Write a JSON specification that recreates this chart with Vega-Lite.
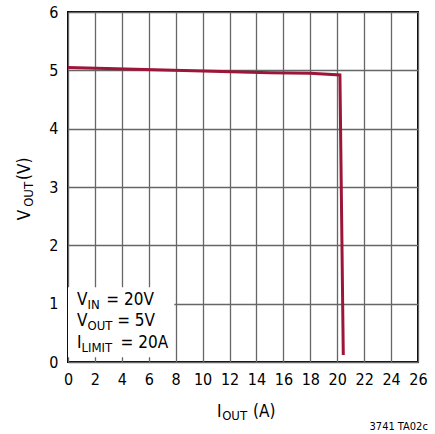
{
  "$schema": "https://vega.github.io/schema/vega-lite/v6.json",
  "width": 350,
  "height": 350,
  "autosize": {"type": "none"},
  "padding": {"left": 68, "top": 12, "right": 17, "bottom": 72},
  "background": "white",
  "config": {
    "view": {"stroke": "black", "strokeWidth": 2},
    "font": "'DejaVu Sans Condensed', Roboto, sans-serif"
  },
  "datasets": {
    "curve": [
      {"x": 0, "y": 5.05},
      {"x": 5, "y": 5.02},
      {"x": 10, "y": 4.99},
      {"x": 15, "y": 4.96},
      {"x": 18, "y": 4.95},
      {"x": 20.2, "y": 4.92},
      {"x": 20.45, "y": 0.12}
    ],
    "box": [{"x": 0, "x2": 7.9, "y": 0.08, "y2": 1.28}],
    "big": [
      {"x": 0.67, "y": 0.97, "t": "V"},
      {"x": 2.85, "y": 0.97, "t": "= 20V"},
      {"x": 0.67, "y": 0.61, "t": "V"},
      {"x": 3.65, "y": 0.61, "t": "= 5V"},
      {"x": 0.67, "y": 0.24, "t": "I"},
      {"x": 3.9, "y": 0.24, "t": "= 20A"},
      {"x": 11.07, "y": -0.943, "t": "I"},
      {"x": 13.74, "y": -0.943, "t": "(A)"}
    ],
    "small": [
      {"x": 1.45, "y": 0.91, "t": "IN"},
      {"x": 1.45, "y": 0.55, "t": "OUT"},
      {"x": 1.0, "y": 0.18, "t": "LIMIT"},
      {"x": 11.45, "y": -1.0, "t": "OUT"}
    ],
    "ybig": [
      {"x": -2.82, "y": 2.43, "t": "V"},
      {"x": -2.82, "y": 3.12, "t": "(V)"}
    ],
    "ysmall": [
      {"x": -2.6, "y": 2.66, "t": "OUT"}
    ],
    "note": [{"x": 22.4, "y": -1.17, "t": "3741 TA02c"}]
  },
  "encoding": {
    "x": {"field": "x", "type": "quantitative", "scale": {"domain": [0, 26], "nice": false, "zero": false},
      "axis": {"values": [0,2,4,6,8,10,12,14,16,18,20,22,24,26], "format": "d", "labelOverlap": false, "title": null, "grid": true, "gridColor": "#666", "gridWidth": 1.3, "gridOpacity": 1, "domain": false, "ticks": false, "labelFontSize": 16, "labelColor": "black", "labelPadding": 9, "labelFlush": false}},
    "y": {"field": "y", "type": "quantitative", "scale": {"domain": [0, 6], "nice": false, "zero": false},
      "axis": {"values": [0,1,2,3,4,5,6], "format": "d", "labelOverlap": false, "title": null, "grid": true, "gridColor": "#666", "gridWidth": 1.3, "gridOpacity": 1, "domain": false, "ticks": false, "labelFontSize": 16, "labelColor": "black", "labelPadding": 10, "labelFlush": false}}
  },
  "layer": [
    {
      "data": {"name": "box"},
      "mark": {"type": "rect", "fill": "white", "stroke": null},
      "encoding": {
        "x2": {"field": "x2"},
        "y2": {"field": "y2"}
      }
    },
    {
      "data": {"name": "curve"},
      "mark": {"type": "line", "color": "#9B1638", "strokeWidth": 3},
      "encoding": {}
    },
    {
      "data": {"name": "big"},
      "mark": {"type": "text", "align": "left", "baseline": "alphabetic", "fontSize": 17, "clip": false, "color": "black"},
      "encoding": {"text": {"field": "t"}}
    },
    {
      "data": {"name": "small"},
      "mark": {"type": "text", "align": "left", "baseline": "alphabetic", "fontSize": 13, "clip": false, "color": "black"},
      "encoding": {"text": {"field": "t"}}
    },
    {
      "data": {"name": "ybig"},
      "mark": {"type": "text", "align": "left", "baseline": "alphabetic", "fontSize": 17, "angle": 270, "clip": false, "color": "black"},
      "encoding": {"text": {"field": "t"}}
    },
    {
      "data": {"name": "ysmall"},
      "mark": {"type": "text", "align": "left", "baseline": "alphabetic", "fontSize": 13, "angle": 270, "clip": false, "color": "black"},
      "encoding": {"text": {"field": "t"}}
    },
    {
      "data": {"name": "note"},
      "mark": {"type": "text", "align": "left", "baseline": "alphabetic", "fontSize": 11, "clip": false, "color": "black"},
      "encoding": {"text": {"field": "t"}}
    }
  ]
}
